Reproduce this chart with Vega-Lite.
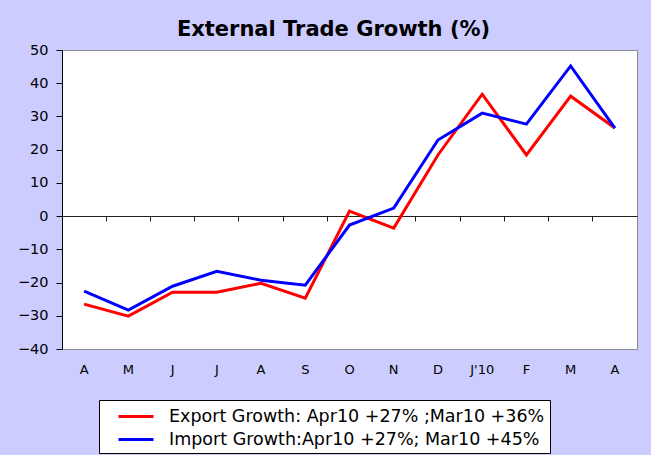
{
  "$schema": "https://vega.github.io/schema/vega-lite/v6.json",
  "autosize": {"type": "none"},
  "width": 575,
  "height": 299,
  "padding": {"left": 62, "top": 50, "right": 14, "bottom": 106},
  "background": "#CCCCFF",
  "config": {
    "view": {"stroke": "#8a8a8a", "strokeWidth": 1, "fill": "white"},
    "font": "DejaVu Sans"
  },
  "title": {
    "text": "External Trade Growth (%)",
    "font": "DejaVu Sans",
    "fontSize": 21,
    "fontWeight": "bold",
    "color": "black",
    "anchor": "middle",
    "baseline": "alphabetic",
    "dx": -16,
    "dy": 15,
    "offset": 0
  },
  "data": {
    "values": [
      {"month": "Apr09", "series": "Export Growth: Apr10 +27% ;Mar10 +36%", "value": -26.5},
      {"month": "May09", "series": "Export Growth: Apr10 +27% ;Mar10 +36%", "value": -30.1},
      {"month": "Jun09", "series": "Export Growth: Apr10 +27% ;Mar10 +36%", "value": -22.9},
      {"month": "Jul09", "series": "Export Growth: Apr10 +27% ;Mar10 +36%", "value": -22.9},
      {"month": "Aug09", "series": "Export Growth: Apr10 +27% ;Mar10 +36%", "value": -20.2},
      {"month": "Sep09", "series": "Export Growth: Apr10 +27% ;Mar10 +36%", "value": -24.7},
      {"month": "Oct09", "series": "Export Growth: Apr10 +27% ;Mar10 +36%", "value": 1.5},
      {"month": "Nov09", "series": "Export Growth: Apr10 +27% ;Mar10 +36%", "value": -3.6},
      {"month": "Dec09", "series": "Export Growth: Apr10 +27% ;Mar10 +36%", "value": 18.4},
      {"month": "Jan10", "series": "Export Growth: Apr10 +27% ;Mar10 +36%", "value": 36.7},
      {"month": "Feb10", "series": "Export Growth: Apr10 +27% ;Mar10 +36%", "value": 18.4},
      {"month": "Mar10", "series": "Export Growth: Apr10 +27% ;Mar10 +36%", "value": 36.1},
      {"month": "Apr10", "series": "Export Growth: Apr10 +27% ;Mar10 +36%", "value": 26.5},
      {"month": "Apr09", "series": "Import Growth:Apr10 +27%; Mar10 +45%", "value": -22.6},
      {"month": "May09", "series": "Import Growth:Apr10 +27%; Mar10 +45%", "value": -28.3},
      {"month": "Jun09", "series": "Import Growth:Apr10 +27%; Mar10 +45%", "value": -21.1},
      {"month": "Jul09", "series": "Import Growth:Apr10 +27%; Mar10 +45%", "value": -16.6},
      {"month": "Aug09", "series": "Import Growth:Apr10 +27%; Mar10 +45%", "value": -19.3},
      {"month": "Sep09", "series": "Import Growth:Apr10 +27%; Mar10 +45%", "value": -20.8},
      {"month": "Oct09", "series": "Import Growth:Apr10 +27%; Mar10 +45%", "value": -2.7},
      {"month": "Nov09", "series": "Import Growth:Apr10 +27%; Mar10 +45%", "value": 2.4},
      {"month": "Dec09", "series": "Import Growth:Apr10 +27%; Mar10 +45%", "value": 22.9},
      {"month": "Jan10", "series": "Import Growth:Apr10 +27%; Mar10 +45%", "value": 31.0},
      {"month": "Feb10", "series": "Import Growth:Apr10 +27%; Mar10 +45%", "value": 27.7},
      {"month": "Mar10", "series": "Import Growth:Apr10 +27%; Mar10 +45%", "value": 45.2},
      {"month": "Apr10", "series": "Import Growth:Apr10 +27%; Mar10 +45%", "value": 26.5}
    ]
  },
  "encoding": {
    "y": {
      "field": "value",
      "type": "quantitative",
      "scale": {"domain": [-40, 50], "nice": false, "zero": false},
      "axis": {
        "title": null,
        "values": [-40, -30, -20, -10, 0, 10, 20, 30, 40, 50],
        "labelOverlap": false,
        "grid": false,
        "domainColor": "black",
        "domainWidth": 1,
        "tickColor": "black",
        "tickSize": 6,
        "labelFontSize": 14.5,
        "labelColor": "black",
        "labelPadding": 8,
        "labelFont": "DejaVu Sans"
      }
    }
  },
  "resolve": {"axis": {"x": "independent"}},
  "layer": [
    {
      "mark": {"type": "line", "strokeWidth": 3},
      "encoding": {
        "x": {
          "field": "month",
          "type": "ordinal",
          "sort": null,
          "scale": {"type": "band", "paddingInner": 0, "paddingOuter": 0},
          "axis": {
            "orient": "bottom",
            "title": null,
            "domain": false,
            "ticks": false,
            "labelAngle": 0,
            "labelPadding": 14,
            "labelFontSize": 13,
            "labelColor": "black",
            "labelFont": "DejaVu Sans",
            "labelExpr": "datum.value == 'Jan10' ? \"J'10\" : substring(datum.value, 0, 1)"
          }
        },
        "color": {
          "field": "series",
          "type": "nominal",
          "scale": {"range": ["#FF0000", "#0000FF"]},
          "legend": {
            "title": null,
            "orient": "none",
            "legendX": 37,
            "legendY": 350,
            "direction": "vertical",
            "symbolType": "M0.3,0H3.8",
            "symbolSize": 400,
            "symbolStrokeWidth": 3,
            "labelFontSize": 17.5,
            "labelFont": "DejaVu Sans",
            "labelColor": "black",
            "labelLimit": 600,
            "labelOffset": 42,
            "rowPadding": 3,
            "padding": 5,
            "strokeColor": "black",
            "fillColor": "white"
          }
        }
      }
    },
    {
      "mark": {"type": "point", "opacity": 0},
      "encoding": {
        "x": {
          "field": "month",
          "type": "ordinal",
          "sort": null,
          "scale": {"type": "band", "paddingInner": 0, "paddingOuter": 0},
          "axis": {
            "orient": "bottom",
            "offset": -133,
            "title": null,
            "domain": true,
            "domainColor": "#222222",
            "domainWidth": 1,
            "labels": false,
            "ticks": true,
            "bandPosition": 0,
            "tickSize": 5,
            "tickColor": "#222222"
          }
        }
      }
    }
  ]
}
